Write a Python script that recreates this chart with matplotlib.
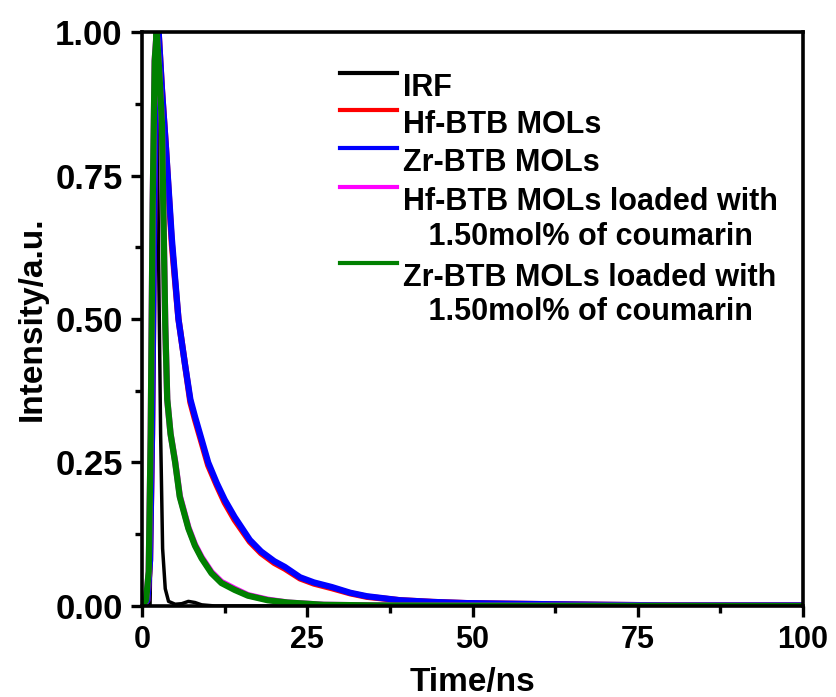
import numpy as np
import matplotlib
matplotlib.use("Agg")
import matplotlib.pyplot as plt
from matplotlib.lines import Line2D

plt.rcParams['font.family'] = ['Liberation Sans', 'DejaVu Sans']
plt.rcParams['font.weight'] = 'bold'

# values (time in ns, normalised intensity)
t_irf = [0, 1.2, 1.5, 1.8, 2.0, 2.2, 2.5, 2.8, 3.1, 3.5, 4.0, 5.0, 6.0, 7.0, 8.0, 9.0, 11.0, 20.0, 100.0]
irf = [0, 0, 0.25, 0.8, 1.0, 0.95, 0.6, 0.3, 0.1, 0.03, 0.008, 0.003, 0.004, 0.008, 0.006, 0.002, 0, 0, 0]

t_mol = [0, 0.8, 1.2, 1.5, 1.8, 2.1, 2.5, 3.0, 3.6, 4.5, 5.5, 6.5, 7.3, 8.0, 9.0, 10.0, 11.3, 12.5,
         14.0, 16.3, 18.0, 20.0, 21.6, 23.9, 26.0, 28.7, 31.5, 34.0, 39.0, 44.0, 49.0, 55.0, 62.0,
         70.0, 80.0, 90.0, 100.0]
zr_mol = [0, 0.01, 0.08, 0.3, 0.65, 0.92, 1.0, 0.9, 0.8, 0.64, 0.5, 0.42, 0.36, 0.33, 0.29, 0.25,
          0.214, 0.185, 0.155, 0.115, 0.095, 0.078, 0.068, 0.05, 0.041, 0.033, 0.023, 0.017, 0.01,
          0.007, 0.005, 0.004, 0.003, 0.002, 0.001, 0.001, 0.001]
hf_mol = [0, 0.01, 0.08, 0.3, 0.65, 0.92, 1.0, 0.9, 0.8, 0.63, 0.5, 0.42, 0.355, 0.325, 0.285, 0.245,
          0.21, 0.18, 0.15, 0.112, 0.092, 0.075, 0.065, 0.048, 0.039, 0.031, 0.022, 0.016, 0.01,
          0.007, 0.005, 0.004, 0.003, 0.002, 0.001, 0.001, 0.001]

t_load = [0, 0.6, 1.0, 1.3, 1.6, 1.9, 2.2, 2.6, 3.0, 3.5, 3.8, 4.3, 5.0, 5.7, 7.0, 8.0, 9.0, 10.5,
          12.0, 14.0, 16.0, 19.0, 22.0, 27.5, 35.0, 50.0, 100.0]
zr_load = [0, 0.01, 0.06, 0.3, 0.7, 0.95, 1.0, 0.93, 0.84, 0.49, 0.36, 0.3, 0.25, 0.19, 0.135, 0.105,
           0.083, 0.057, 0.04, 0.028, 0.018, 0.01, 0.006, 0.002, 0.001, 0.0005, 0]
hf_load = [0, 0.01, 0.06, 0.3, 0.7, 0.95, 1.0, 0.93, 0.84, 0.49, 0.36, 0.3, 0.252, 0.192, 0.137, 0.107,
           0.085, 0.059, 0.042, 0.03, 0.019, 0.011, 0.006, 0.002, 0.001, 0.0005, 0]

labels = ["IRF", "Hf-BTB MOLs", "Zr-BTB MOLs",
          "Hf-BTB MOLs loaded with\n   1.50mol% of coumarin",
          "Zr-BTB MOLs loaded with\n   1.50mol% of coumarin"]
colors = ["black", "red", "blue", "magenta", "green"]

fig = plt.figure(figsize=(8.36, 6.97), dpi=100)
ax = fig.add_axes([0.170, 0.1306, 0.7905, 0.8234])

ax.plot(t_irf, irf, color=colors[0], lw=2.5)
ax.plot(t_mol, hf_mol, color=colors[1], lw=4.5)
ax.plot(t_mol, zr_mol, color=colors[2], lw=4.5)
ax.plot(t_load, hf_load, color=colors[3], lw=4.5)
ax.plot(t_load, zr_load, color=colors[4], lw=4.5)

ax.set_xlim(0, 100)
ax.set_ylim(0, 1.0)
ax.set_xticks([0, 25, 50, 75, 100])
ax.set_xticks([12.5, 37.5, 62.5, 87.5], minor=True)
ax.set_yticks([0, 0.25, 0.5, 0.75, 1.0])
ax.set_yticks([0.125, 0.375, 0.625, 0.875], minor=True)
ax.set_yticklabels(["0.00", "0.25", "0.50", "0.75", "1.00"])

for s in ax.spines.values():
    s.set_linewidth(2.6)
ax.tick_params(which='major', direction='out', length=8, width=2.4, labelsize=22, pad=6)
ax.tick_params(which='minor', direction='out', length=5, width=2.4)
ax.tick_params(axis='y', labelsize=25, pad=6)
ax.tick_params(top=False, right=False)

ax.set_xlabel("Time/ns", fontsize=24, fontweight='bold', labelpad=8)
ax.set_ylabel("Intensity/a.u.", fontsize=24, fontweight='bold', labelpad=5)

# legend drawn by hand so the handle sits on the first text line
ys = [0.9286, 0.864, 0.798, 0.730, 0.598]
for lab, c, y in zip(labels, colors, ys):
    ax.add_line(Line2D([0.2995, 0.386], [y, y], transform=ax.transAxes, color=c, lw=3))
    ax.text(0.395, y, lab, transform=ax.transAxes, fontsize=22, fontweight='bold',
            va='top', ha='left', linespacing=1.2)

fig.savefig("out.png", dpi=100)
